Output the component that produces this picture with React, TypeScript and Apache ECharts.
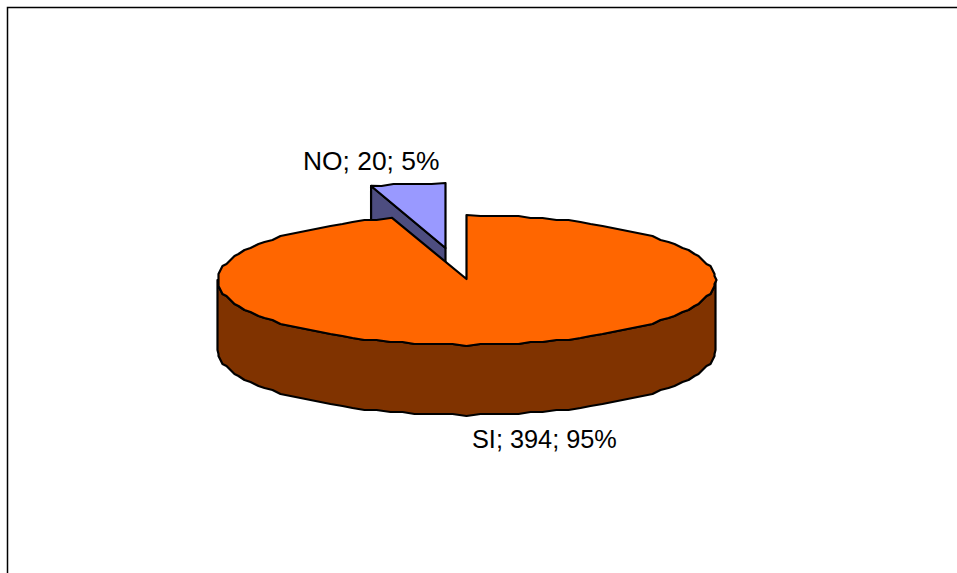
import React, { useEffect, useRef } from "react";
import * as echarts from "echarts";

const categories = ["SI", "NO"];
const values = [394, 20];
const percents = [95, 5];

const W = 957;
const H = 573;
const CX = 466.5;
const CY = 280;
const RX = 249;
const RY = 65;
const DEPTH = 70;
const SNAP = 2;
const STEP = 3;
const topColors = ["#FF6600", "#9999FF"];
const sideColors = ["#803300", "#4D4D80"];
const explodeOffsets = [[0, 0], [-21, -32]];
const labelAnchors = [[472, 451.5], [303, 173.5]];
const labelSizes = [25.3, 26.4];

const snap = (v: number) => Math.round(v / SNAP) * SNAP;

function rim(deg: number, ox: number, oy: number, smooth = false): number[] {
  const t = (deg * Math.PI) / 180;
  const x = RX * Math.sin(t);
  const y = -RY * Math.cos(t);
  return smooth ? [CX + x + ox, CY + y + oy] : [CX + snap(x) + ox, CY + snap(y) + oy];
}

function arc(a: number, b: number, ox: number, oy: number): number[][] {
  const pts: number[][] = [rim(a, ox, oy, true)];
  for (let d = Math.ceil(a / STEP) * STEP; d < b; d += STEP) {
    if (d > a) pts.push(rim(d, ox, oy));
  }
  pts.push(rim(b, ox, oy, true));
  return pts;
}

export default function App() {
  const ref = useRef<HTMLDivElement>(null);

  useEffect(() => {
    if (!ref.current) return;
    const chart = echarts.init(ref.current, undefined, { renderer: "svg", width: W, height: H });
    const total = values.reduce((s, v) => s + v, 0);
    const starts: number[] = [];
    let acc = 0;
    values.forEach((v) => {
      starts.push(acc);
      acc += (v / total) * 360;
    });

    const renderItem = (_p: any, api: any) => {
      const i = api.value(0) as number;
      const v = api.value(1) as number;
      const a = starts[i];
      const b = a + (v / total) * 360;
      const [ox, oy] = explodeOffsets[i];
      const tip = [CX + ox, CY + oy - (i === 0 ? 1 : 0)];
      const lineStyle = { stroke: "#000", lineWidth: 2.2, lineJoin: "round" };
      const z = i === 0 ? 10 : 0;
      const children: any[] = [];

      // cut face of the slice on its far edge
      if (i === 1) {
        const p = rim(a, ox, oy, true);
        children.push({
          type: "polygon",
          z2: z,
          shape: {
            points: [tip, p, [p[0], p[1] + DEPTH], [tip[0], tip[1] + DEPTH]],
          },
          style: { fill: sideColors[i], ...lineStyle },
        });
      }

      // outer wall on the front half
      const wa = Math.max(a, 90);
      const wb = Math.min(b, 270);
      if (wb > wa) {
        const upper = arc(wa, wb, ox, oy);
        const lower = upper.map((p) => [p[0], p[1] + DEPTH]).reverse();
        children.push({
          type: "polygon",
          z2: z + 1,
          shape: { points: [...upper, ...lower] },
          style: { fill: sideColors[i], ...lineStyle },
        });
      }

      // top face
      children.push({
        type: "polygon",
        z2: z + 2,
        shape: { points: [tip, ...arc(a, b, ox, oy)] },
        style: { fill: topColors[i], ...lineStyle },
      });

      children.push({
        type: "text",
        z2: 20,
        style: {
          text: `${categories[i]}; ${v}; ${percents[i]}%`,
          x: labelAnchors[i][0],
          y: labelAnchors[i][1],
          fill: "#000",
          font: `${labelSizes[i]}px "Liberation Sans", Arial, sans-serif`,
          textAlign: "left",
          textVerticalAlign: "bottom",
          verticalAlign: "alphabetic",
        },
      });

      return { type: "group", children };
    };

    chart.setOption({
      animation: false,
      backgroundColor: "#fff",
      graphic: [
        {
          type: "polyline",
          shape: { points: [[7.5, H], [7.5, 7.5], [W, 7.5]] },
          style: { stroke: "#000", lineWidth: 1.5, fill: "none" },
        },
      ],
      series: [
        {
          type: "custom",
          coordinateSystem: "none",
          renderItem,
          silent: true,
          data: values.map((v, i) => [i, v]),
        },
      ],
    });
    return () => chart.dispose();
  }, []);

  return <div ref={ref} style={{ position: "absolute", left: 0, top: 0, width: W, height: H }} />;
}
